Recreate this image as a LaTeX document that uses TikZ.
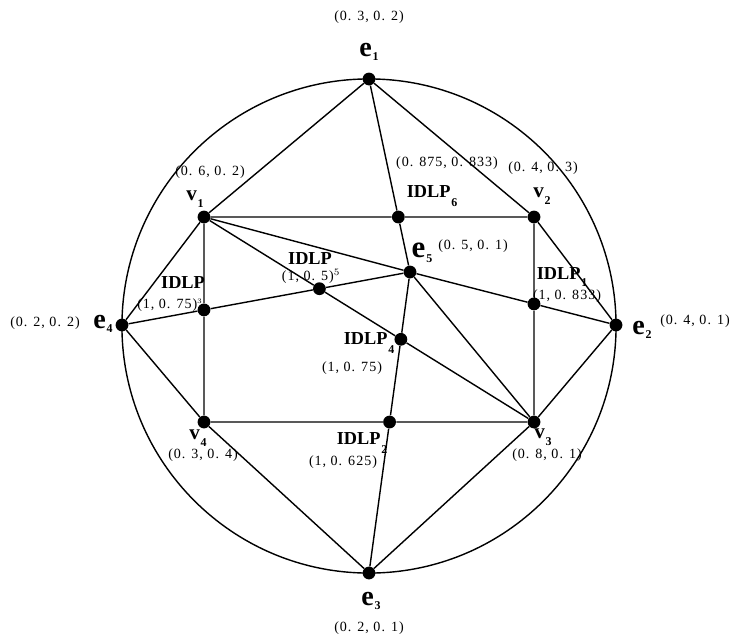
\documentclass[tikz,border=0pt]{standalone}
\usepackage{fontspec}
\setmainfont{Liberation Serif}
\newfontfamily\valfont[LetterSpace=7]{Liberation Serif}
\newcommand{\lowsub}[2][-4pt]{\kern0.6pt\raisebox{#1}{\fontsize{8.5}{9}\selectfont\bfseries #2}}

\begin{document}
\begin{tikzpicture}[
  x=0.025cm,y=-0.025cm,
  dot/.style={circle,fill=black,inner sep=0pt,minimum size=3.2mm},
  link/.style={line width=1pt},
  val/.style={font=\valfont\fontsize{10}{12}\selectfont,inner sep=0pt},
  ename/.style={font=\fontsize{20}{22}\selectfont\bfseries,inner sep=0pt},
  vname/.style={font=\fontsize{15}{17}\selectfont\bfseries,inner sep=0pt},
  pname/.style={font=\fontsize{13}{15}\selectfont\bfseries,inner sep=0pt}
]
  \useasboundingbox (0,0) rectangle (732,640);

  % outer ring and the points on it
  \node[draw,link,circle,minimum size=12.35cm,inner sep=0pt] (rim) at (369,326) {};
  \node[dot] (e1) at (369,79) {};
  \node[dot] (e2) at (616,325) {};
  \node[dot] (e3) at (369,573) {};
  \node[dot] (e4) at (122,325) {};
  \node[dot] (e5) at (410,272) {};
  \node[dot] (v1) at (204,217) {};
  \node[dot] (v2) at (534,217) {};
  \node[dot] (v3) at (534,422) {};
  \node[dot] (v4) at (204,422) {};

  % crossing points
  \node[dot] (p1) at (intersection of e5--e2 and v2--v3) {};
  \node[dot] (p2) at (intersection of e5--e3 and v4--v3) {};
  \node[dot] (p3) at (intersection of e4--e5 and v1--v4) {};
  \node[dot] (p4) at (intersection of e5--e3 and v1--v3) {};
  \node[dot] (p5) at (intersection of e4--e5 and v1--v3) {};
  \node[dot] (p6) at (intersection of e1--e5 and v1--v2) {};

  \draw[link] (e1) -- (v1) (e1) -- (v2) (e1) -- (p6) -- (e5);
  \draw[link] (v1) -- (p6) -- (v2) -- (p1) -- (v3) -- (p2) -- (v4) -- (p3) -- (v1);
  \draw[link] (v1) -- (e5) (v1) -- (p5) -- (p4) -- (v3);
  \draw[link] (e4) -- (v1) (e4) -- (v4) (e4) -- (p3) -- (p5) -- (e5);
  \draw[link] (e5) -- (p1) -- (e2) (e5) -- (v3) (e5) -- (p4) -- (p2) -- (e3);
  \draw[link] (v2) -- (e2) (v3) -- (e2) (v4) -- (e3) (v3) -- (e3);

  % names
  \node[ename] (ne1) at (369,52) {e\lowsub[-3.3pt]{1}};
  \node[ename] (ne2) at (642,330) {e\lowsub[-3.3pt]{2}};
  \node[ename] (ne3) at (371,601) {e\lowsub[-3.3pt]{3}};
  \node[ename] (ne4) at (103,324) {e\lowsub[-3.3pt]{4}};
  \node[ename,font=\fontsize{22}{24}\selectfont\bfseries] (ne5) at (422,253) {e\lowsub[-3.3pt]{5}};
  \node[vname] (nv1) at (195,199) {v\lowsub[-5pt]{1}};
  \node[vname] (nv2) at (542,196) {v\lowsub[-5pt]{2}};
  \node[vname] (nv3) at (543,437) {v\lowsub[-5pt]{3}};
  \node[vname] (nv4) at (198,438) {v\lowsub[-5pt]{4}};
  \node[pname] (np1) at (562,277) {IDLP\lowsub[-5pt]{1}};
  \node[pname] (np2) at (362,443) {IDLP\lowsub[-6pt]{2}};
  \node[pname] (np3) at (183,283) {IDLP};
  \node[pname] (np4) at (369,343) {IDLP\lowsub[-6pt]{4}};
  \node[pname] (np5) at (310,259) {IDLP};
  \node[pname] (np6) at (432,196) {IDLP\lowsub[-6pt]{6}};

  % values
  \node[val] (ve1) at (369,17) {(0. 3, 0. 2)};
  \node[val,anchor=east] (ve2) at (730,321) {(0. 4, 0. 1)};
  \node[val] (ve3) at (369,628) {(0. 2, 0. 1)};
  \node[val] (ve4) at (45,323) {(0. 2, 0. 2)};
  \node[val] (ve5) at (473,246) {(0. 5, 0. 1)};
  \node[val] (vv1) at (210,172) {(0. 6, 0. 2)};
  \node[val] (vv2) at (543,168) {(0. 4, 0. 3)};
  \node[val] (vv3) at (547,455) {(0. 8, 0. 1)};
  \node[val] (vv4) at (203,455) {(0. 3, 0. 4)};
  \node[val] (vp1) at (567,296) {(1, 0. 833)};
  \node[val] (vp2) at (343,462) {(1, 0. 625)};
  \node[val] (vp3) at (170,305) {(1, 0. 75)$^{\scriptscriptstyle 3}$};
  \node[val] (vp4) at (352,368) {(1, 0. 75)};
  \node[val] (vp5) at (311,276) {(1, 0. 5)$^{\scriptstyle 5}$};
  \node[val] (vp6) at (447,163) {(0. 875, 0. 833)};
\end{tikzpicture}
\end{document}
